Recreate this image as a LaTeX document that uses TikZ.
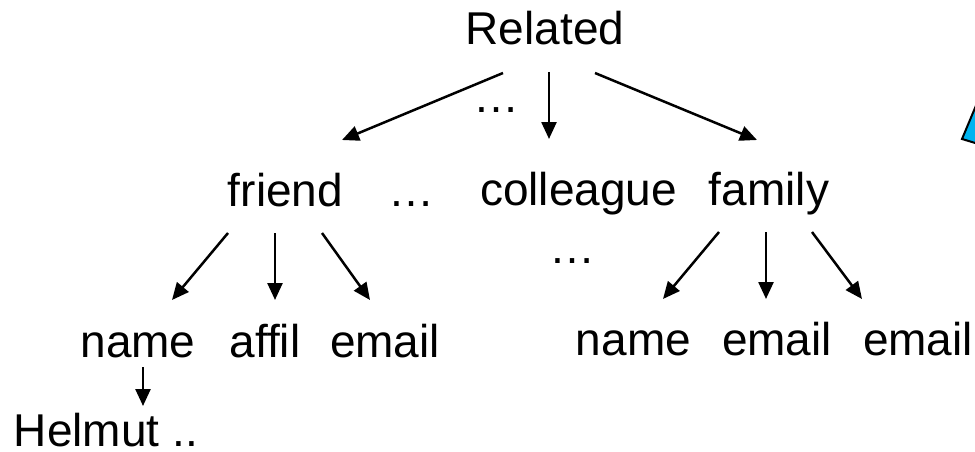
\documentclass[tikz,border=0pt]{standalone}
\usepackage{fontspec}
\setmainfont{Liberation Sans}
\usetikzlibrary{arrows.meta}
\definecolor{skyblue}{RGB}{0,180,240}
\begin{document}
\begin{tikzpicture}[x=1pt,y=-1pt,
  lbl/.style={inner sep=0pt,anchor=base,font=\fontsize{46}{50}\selectfont},
  arr/.style={line width=2.5pt,-{Triangle[length=17pt,width=15pt]}}]
\useasboundingbox (0,0) rectangle (975,452);
% blue shape at the right edge
\begin{scope}
\clip (0,0) rectangle (975,452);
\draw[fill=skyblue,line width=2pt] (980,96) -- (962,139) -- (995,149) -- cycle;
\end{scope}
% text
\node[lbl] (rel) at (545,45) {Related};
\node[lbl] (dots1) at (496.5,112) {…};
\node[lbl] (friend) at (285.5,206) {friend};
\node[lbl] (dots2) at (411,206) {…};
\node[lbl] (coll) at (578.5,205) {colleague};
\node[lbl] (family) at (769,205) {family};
\node[lbl] (dots3) at (572.5,263) {…};
\node[lbl] (name1) at (138,357) {name};
\node[lbl] (affil) at (265,357) {affil};
\node[lbl] (email1) at (385,357) {email};
\node[lbl] (name2) at (633.5,355) {name};
\node[lbl] (email2) at (777,355) {email};
\node[lbl] (email3) at (918,355) {email};
\node[lbl] (helmut) at (106,446) {Helmut ..};
% connector ends
\coordinate (r1) at (503,73);
\coordinate (r2) at (549,72);
\coordinate (r3) at (595,73);
\coordinate (t1) at (342,140);
\coordinate (t2) at (549,139);
\coordinate (t3) at (757,140);
\coordinate (f1) at (228,233);
\coordinate (f2) at (275,233);
\coordinate (f3) at (322,233);
\coordinate (fa) at (172,300);
\coordinate (fb) at (275,300);
\coordinate (fc) at (370,300);
\coordinate (m1) at (719,232);
\coordinate (m2) at (766,232);
\coordinate (m3) at (812,232);
\coordinate (ma) at (663,299);
\coordinate (mb) at (766,299);
\coordinate (mc) at (862,299);
\coordinate (n1) at (143,367);
\coordinate (n2) at (143,406);
% arrows
\draw[arr] (r1) -- (t1);
\draw[arr] (r2) -- (t2);
\draw[arr] (r3) -- (t3);
\draw[arr] (f1) -- (fa);
\draw[arr] (f2) -- (fb);
\draw[arr] (f3) -- (fc);
\draw[arr] (m1) -- (ma);
\draw[arr] (m2) -- (mb);
\draw[arr] (m3) -- (mc);
\draw[arr] (n1) -- (n2);
\end{tikzpicture}
\end{document}
